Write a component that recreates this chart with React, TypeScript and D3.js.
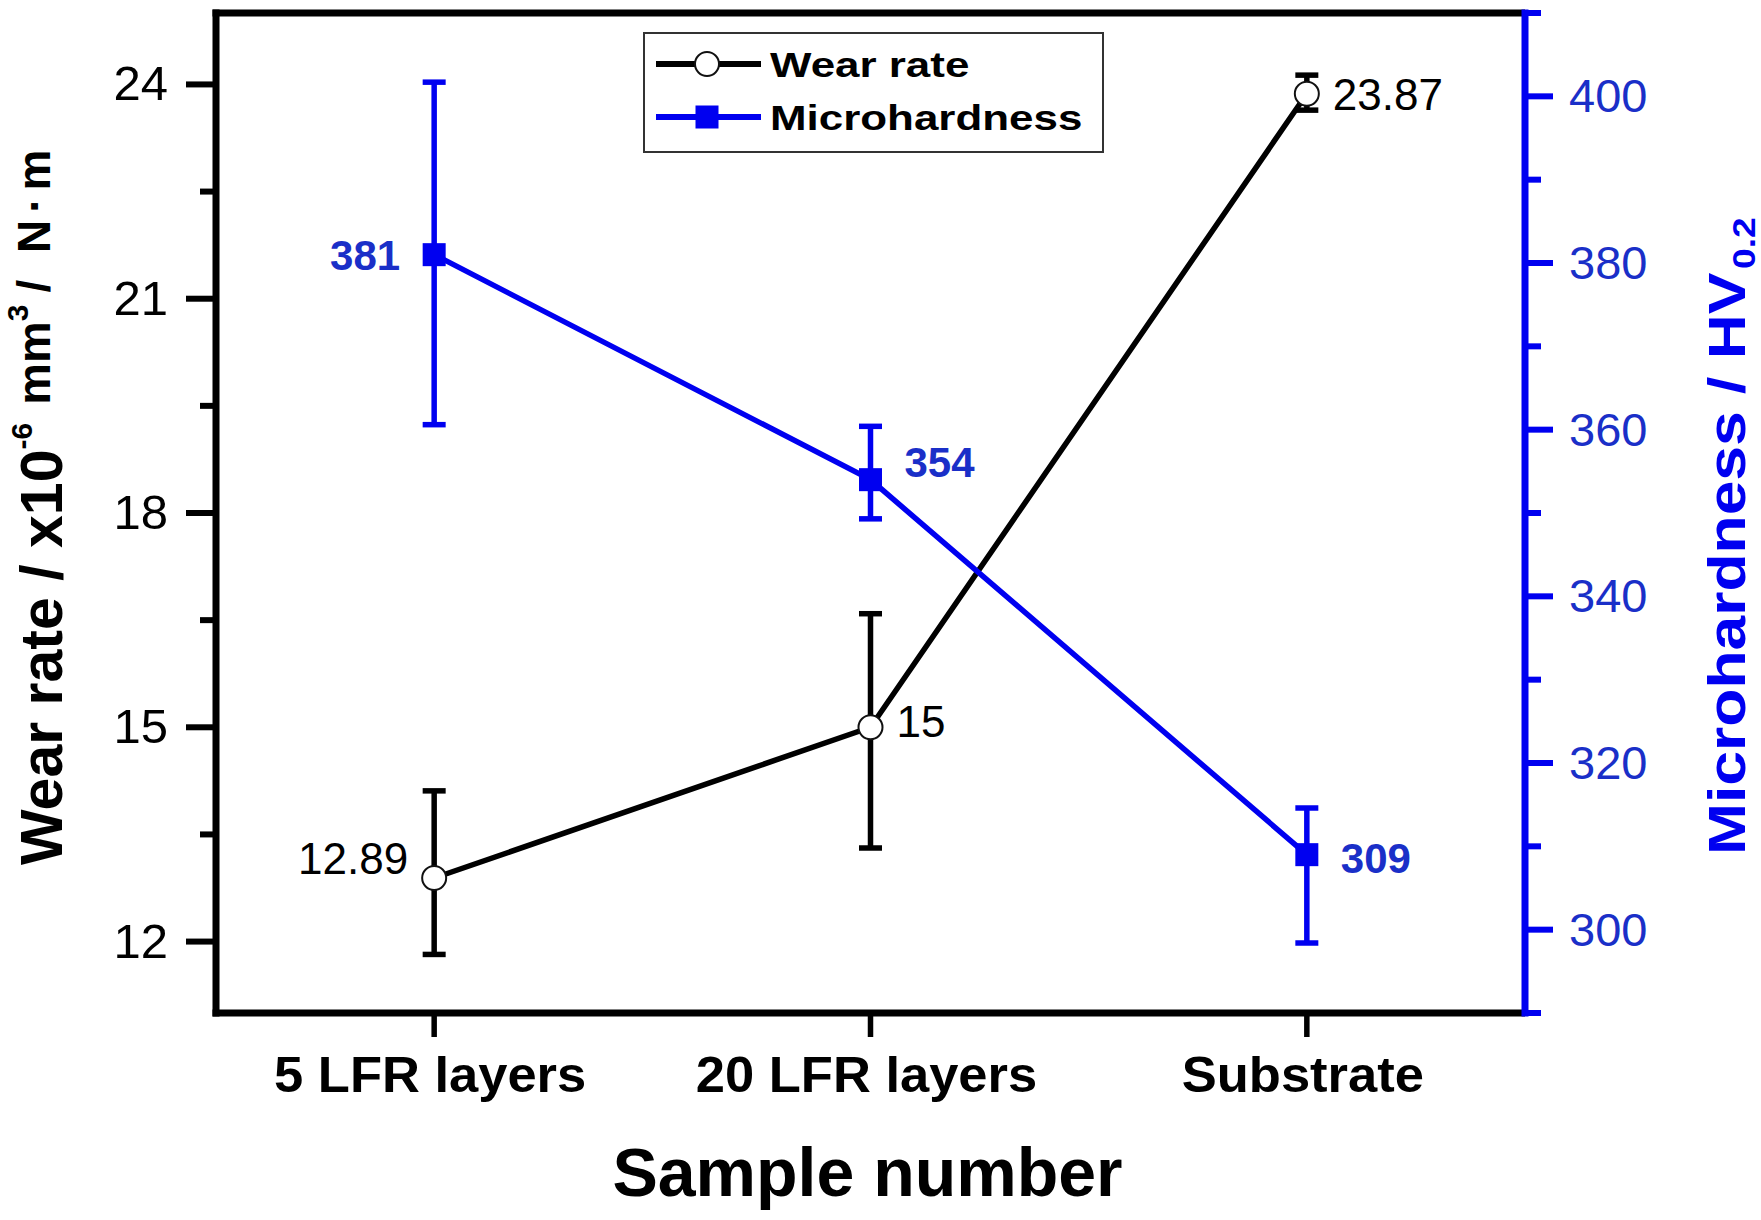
import React from "react";
import * as d3 from "d3";

const categories = ["5 LFR layers", "20 LFR layers", "Substrate"];
const wearRate = [12.89, 15, 23.87];
const wearErrUp = [1.22, 1.59, 0.26];
const wearErrDown = [1.07, 1.69, 0.23];
const microhardness = [381, 354, 309];
const microErrUp = [20.7, 6.4, 5.6];
const microErrDown = [20.4, 4.7, 10.6];
const wearLabels = ["12.89", "15", "23.87"];
const microLabels = ["381", "354", "309"];
const leftMajorTicks = [12, 15, 18, 21, 24];
const leftMinorTicks = [13.5, 16.5, 19.5, 22.5];
const rightMajorTicks = [300, 320, 340, 360, 380, 400];
const rightMinorTicks = [290, 310, 330, 350, 370, 390, 410];

// label placement: side (-1 left / +1 right) and vertical offset
const wearLabelPlace = [
  { side: -1, dy: -20 },
  { side: 1, dy: -6 },
  { side: 1, dy: 0 },
];
const microLabelPlace = [
  { side: -1, dy: 0 },
  { side: 1, dy: -18 },
  { side: 1, dy: 3 },
];

const W = 1761;
const H = 1220;
const L = 216;
const R = 1525;
const T = 13;
const B = 1013;
const FONT = "'Liberation Sans', Arial, Helvetica, sans-serif";
const BLUE = "#0000f0";
const BLUE_TEXT = "#1a2fc8";

export default function App() {
  const x = d3.scaleLinear().domain([0.5, 3.5]).range([L, R]);
  const yL = d3.scaleLinear().domain([11, 25]).range([B, T]);
  const yR = d3.scaleLinear().domain([290, 410]).range([B, T]);

  const idx = categories.map((_, i) => i);
  const wearLine = d3
    .line<number>()
    .x((i) => x(i + 1))
    .y((i) => yL(wearRate[i]));
  const microLine = d3
    .line<number>()
    .x((i) => x(i + 1))
    .y((i) => yR(microhardness[i]));

  const capW = 23;
  const sq = 23;
  const lw = 5.5;

  return (
    <svg
      width={W}
      height={H}
      viewBox={`0 0 ${W} ${H}`}
      style={{ position: "absolute", left: 0, top: 0, background: "#fff" }}
      fontFamily={FONT}
    >
      <rect x={0} y={0} width={W} height={H} fill="#fff" />

      {/* frame */}
      <line x1={L - 3.5} x2={R} y1={T} y2={T} stroke="#000" strokeWidth={7} />
      <line x1={L - 3.5} x2={R} y1={B} y2={B} stroke="#000" strokeWidth={7} />
      <line x1={L} x2={L} y1={T - 3.5} y2={B + 3.5} stroke="#000" strokeWidth={7} />
      <line x1={R} x2={R} y1={T - 3.5} y2={B + 3.5} stroke={BLUE} strokeWidth={7} />

      {/* left ticks */}
      {leftMajorTicks.map((v) => (
        <g key={"lm" + v}>
          <line x1={L - 30} x2={L} y1={yL(v)} y2={yL(v)} stroke="#000" strokeWidth={6} />
          <text x={168} y={yL(v) + 16} textAnchor="end" fontSize={49} fill="#000">
            {v}
          </text>
        </g>
      ))}
      {leftMinorTicks.map((v) => (
        <line key={"ln" + v} x1={L - 16} x2={L} y1={yL(v)} y2={yL(v)} stroke="#000" strokeWidth={6} />
      ))}

      {/* right ticks */}
      {rightMajorTicks.map((v) => (
        <g key={"rm" + v}>
          <line x1={R} x2={R + 28} y1={yR(v)} y2={yR(v)} stroke={BLUE} strokeWidth={6} />
          <text x={1569} y={yR(v) + 16} textAnchor="start" fontSize={47} fill={BLUE_TEXT}>
            {v}
          </text>
        </g>
      ))}
      {rightMinorTicks.map((v) => (
        <line key={"rn" + v} x1={R} x2={R + 16} y1={yR(v)} y2={yR(v)} stroke={BLUE} strokeWidth={6} />
      ))}

      {/* bottom ticks and labels */}
      {categories.map((c, i) => (
        <g key={"c" + c}>
          <line x1={x(i + 1)} x2={x(i + 1)} y1={B} y2={B + 24} stroke="#000" strokeWidth={5.5} />
          <text
            transform={`translate(${x(i + 1) - 4},1092) scale(1.05,1)`}
            textAnchor="middle"
            fontSize={50}
            fontWeight="bold"
            fill="#000"
          >
            {c}
          </text>
        </g>
      ))}

      {/* axis titles */}
      <text
        transform={`translate(${(L + R) / 2 - 3},1196)`}
        textAnchor="middle"
        fontSize={68}
        fontWeight="bold"
        fill="#000"
      >
        Sample number
      </text>

      <text transform="translate(62,865) rotate(-90)" fontWeight="bold" fill="#000">
        <tspan fontSize={59}>Wear rate / x10</tspan>
        <tspan fontSize={30} dy={-30}>-6</tspan>
        <tspan fontSize={47} dy={18} dx={18}>mm</tspan>
        <tspan fontSize={30} dy={-22}>3</tspan>
        <tspan fontSize={46} dy={22} dx={12} letterSpacing={7}>/ N·m</tspan>
      </text>

      <text
        transform="translate(1745,855) rotate(-90) scale(1.2,1)"
        fontWeight="bold"
        fill={BLUE}
      >
        <tspan fontSize={52}>Microhardness / HV</tspan>
        <tspan fontSize={31} dy={10} dx={3}>0.2</tspan>
      </text>

      {/* wear rate series */}
      <g>
        {idx.map((i) => (
          <g key={"we" + i}>
            <line
              x1={x(i + 1)}
              x2={x(i + 1)}
              y1={yL(wearRate[i] + wearErrUp[i])}
              y2={yL(wearRate[i] - wearErrDown[i])}
              stroke="#000"
              strokeWidth={lw}
            />
            <line
              x1={x(i + 1) - capW / 2}
              x2={x(i + 1) + capW / 2}
              y1={yL(wearRate[i] + wearErrUp[i])}
              y2={yL(wearRate[i] + wearErrUp[i])}
              stroke="#000"
              strokeWidth={lw}
            />
            <line
              x1={x(i + 1) - capW / 2}
              x2={x(i + 1) + capW / 2}
              y1={yL(wearRate[i] - wearErrDown[i])}
              y2={yL(wearRate[i] - wearErrDown[i])}
              stroke="#000"
              strokeWidth={lw}
            />
          </g>
        ))}
        <path d={wearLine(idx) || ""} fill="none" stroke="#000" strokeWidth={lw} />
        {idx.map((i) => (
          <circle
            key={"wc" + i}
            cx={x(i + 1)}
            cy={yL(wearRate[i])}
            r={12}
            fill="#fff"
            stroke="#111"
            strokeWidth={2}
          />
        ))}
        {idx.map((i) => (
          <text
            key={"wl" + i}
            x={x(i + 1) + wearLabelPlace[i].side * 26}
            y={yL(wearRate[i]) + wearLabelPlace[i].dy + 16}
            textAnchor={wearLabelPlace[i].side < 0 ? "end" : "start"}
            fontSize={44}
            fill="#000"
          >
            {wearLabels[i]}
          </text>
        ))}
      </g>

      {/* microhardness series */}
      <g>
        {idx.map((i) => (
          <g key={"me" + i}>
            <line
              x1={x(i + 1)}
              x2={x(i + 1)}
              y1={yR(microhardness[i] + microErrUp[i])}
              y2={yR(microhardness[i] - microErrDown[i])}
              stroke={BLUE}
              strokeWidth={lw}
            />
            <line
              x1={x(i + 1) - capW / 2}
              x2={x(i + 1) + capW / 2}
              y1={yR(microhardness[i] + microErrUp[i])}
              y2={yR(microhardness[i] + microErrUp[i])}
              stroke={BLUE}
              strokeWidth={lw}
            />
            <line
              x1={x(i + 1) - capW / 2}
              x2={x(i + 1) + capW / 2}
              y1={yR(microhardness[i] - microErrDown[i])}
              y2={yR(microhardness[i] - microErrDown[i])}
              stroke={BLUE}
              strokeWidth={lw}
            />
          </g>
        ))}
        <path d={microLine(idx) || ""} fill="none" stroke={BLUE} strokeWidth={lw} />
        {idx.map((i) => (
          <rect
            key={"ms" + i}
            x={x(i + 1) - sq / 2}
            y={yR(microhardness[i]) - sq / 2}
            width={sq}
            height={sq}
            fill={BLUE}
          />
        ))}
        {idx.map((i) => (
          <text
            key={"ml" + i}
            x={x(i + 1) + microLabelPlace[i].side * 34}
            y={yR(microhardness[i]) + microLabelPlace[i].dy + 15}
            textAnchor={microLabelPlace[i].side < 0 ? "end" : "start"}
            fontSize={42}
            fontWeight="bold"
            fill={BLUE_TEXT}
          >
            {microLabels[i]}
          </text>
        ))}
      </g>

      {/* legend */}
      <g>
        <rect x={644} y={33} width={459} height={119} fill="#fff" stroke="#333" strokeWidth={2} />
        <line x1={656} x2={761} y1={64} y2={64} stroke="#000" strokeWidth={6} />
        <circle cx={707} cy={64} r={12} fill="#fff" stroke="#111" strokeWidth={2} />
        <text transform="translate(770,77) scale(1.22,1)" fontSize={36} fontWeight="bold" fill="#000">
          Wear rate
        </text>
        <line x1={656} x2={761} y1={117} y2={117} stroke={BLUE} strokeWidth={6} />
        <rect x={707 - sq / 2} y={117 - sq / 2} width={sq} height={sq} fill={BLUE} />
        <text transform="translate(770,130) scale(1.22,1)" fontSize={36} fontWeight="bold" fill="#000">
          Microhardness
        </text>
      </g>
    </svg>
  );
}
